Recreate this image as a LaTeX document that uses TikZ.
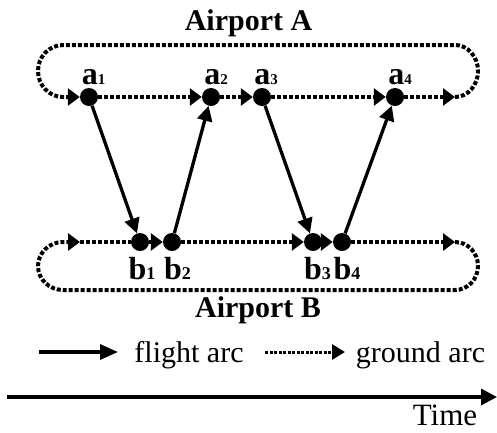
\documentclass[tikz,border=0pt]{standalone}
\usepackage{fontspec}
\setmainfont{Liberation Serif}
\usetikzlibrary{arrows.meta}
\begin{document}
\begin{tikzpicture}[x=1pt,y=1pt,
  event/.style={circle,fill=black,inner sep=0pt,minimum size=18pt},
  flight/.style={line width=3.3pt,-{Triangle[length=15pt,width=15pt]}},
  groundline/.style={line width=4pt,dash pattern=on 4pt off 2pt},
  ground/.style={groundline,-{Triangle[length=12pt,width=17pt]}},
  evlab/.style={anchor=base,inner sep=0pt,font=\fontsize{32}{32}\selectfont\bfseries},
  title/.style={anchor=base,inner sep=0pt,font=\fontsize{30}{30}\selectfont\bfseries},
  txt/.style={anchor=base,inner sep=0pt,font=\fontsize{30}{30}\selectfont}]
\useasboundingbox (0,0) rectangle (497,-432);

% airport titles
\node[title] (apA) at (248.5,-30) {Airport A};
\node[title] (apB) at (258,-317) {Airport B};

% events at airport A
\node[event] (a1) at (89,-97) {};
\node[event] (a2) at (211,-97) {};
\node[event] (a3) at (262,-97) {};
\node[event] (a4) at (395,-97) {};
% events at airport B
\node[event] (b1) at (140,-242) {};
\node[event] (b2) at (172,-242) {};
\node[event] (b3) at (313,-242) {};
\node[event] (b4) at (342,-242) {};

% event labels
\node[evlab] (la1) at (93.5,-84) {a{\fontsize{15}{15}\selectfont 1}};
\node[evlab] (la2) at (216,-84) {a{\fontsize{15}{15}\selectfont 2}};
\node[evlab] (la3) at (266,-84) {a{\fontsize{15}{15}\selectfont 3}};
\node[evlab] (la4) at (400,-84) {a{\fontsize{15}{15}\selectfont 4}};
\node[evlab] (lb1) at (142,-279) {b{\fontsize{18}{18}\selectfont 1}};
\node[evlab] (lb2) at (177.5,-279) {b{\fontsize{18}{18}\selectfont 2}};
\node[evlab] (lb3) at (317.5,-279) {b{\fontsize{18}{18}\selectfont 3}};
\node[evlab] (lb4) at (347,-279) {b{\fontsize{18}{18}\selectfont 4}};

% wrap-around ends of the ground loops
\coordinate (tR) at (455,-97);
\coordinate (bR) at (455,-242);
\coordinate (bL) at (80,-242);

% ground arcs at airport A
\draw[ground] (a1) -- (a2);
\draw[ground] (a2) -- (a3);
\draw[ground] (a3) -- (a4);
\draw[ground] (a4) -- (tR);
\draw[ground] (tR) arc[start angle=-90,end angle=90,x radius=23,y radius=26]
  -- (63,-45) arc[start angle=90,end angle=270,x radius=25,y radius=26] -- (a1);

% ground arcs at airport B
\draw[groundline] (bL) -- (b1);
\draw[ground] (b1) -- (b2);
\draw[ground] (b2) -- (b3);
\draw[ground] (b3) -- (b4);
\draw[ground] (b4) -- (bR);
\draw[ground] (bR) arc[start angle=90,end angle=-90,x radius=23,y radius=24]
  -- (63,-290) arc[start angle=270,end angle=90,x radius=25,y radius=24] -- (bL);

% flight arcs
\draw[flight] (a1) -- (b1);
\draw[flight] (b2) -- (a2);
\draw[flight] (a3) -- (b3);
\draw[flight] (b4) -- (a4);

% legend
\coordinate (lf0) at (39,-352);
\coordinate (lf1) at (118,-352);
\coordinate (lg0) at (265,-352);
\coordinate (lg1) at (345,-352);
\draw[line width=3.3pt,-{Triangle[length=18pt,width=15pt]}] (lf0) -- (lf1);
\node[txt] (lfl) at (189,-362) {flight arc};
\draw[line width=3pt,dash pattern=on 3pt off 1.5pt,-{Triangle[length=13pt,width=15pt]}] (lg0) -- (lg1);
\node[txt] (lgr) at (420.5,-362) {ground arc};

% time axis
\coordinate (t0) at (7,-397);
\coordinate (t1) at (497,-397);
\draw[line width=3.3pt,-{Triangle[length=16pt,width=16pt]}] (t0) -- (t1);
\node[txt,font=\fontsize{31}{31}\selectfont] (time) at (445,-425) {Time};
\end{tikzpicture}
\end{document}
